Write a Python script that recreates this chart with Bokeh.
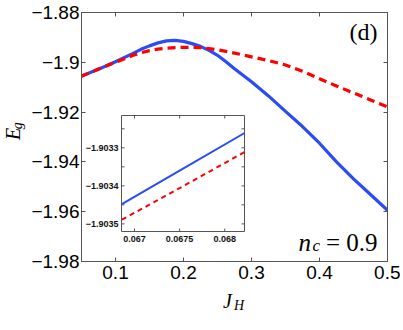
from math import pi
from bokeh.plotting import figure
from bokeh.models import Range1d, FixedTicker, LinearAxis, Label
from bokeh.layouts import row, column
from bokeh.core.properties import value
from bokeh.embed import file_html
from bokeh.resources import INLINE

# ---------------- data ----------------
jh = [0.05, 0.075, 0.1, 0.125, 0.1375, 0.15, 0.1625, 0.175, 0.1875, 0.2, 0.2125,
      0.225, 0.2375, 0.25, 0.2625, 0.275, 0.3, 0.325, 0.35, 0.375, 0.4, 0.425,
      0.45, 0.475, 0.5]
eg_blue = [-1.9055, -1.9028, -1.8998, -1.8965, -1.8948, -1.8934, -1.8922, -1.8914,
           -1.8912, -1.8916, -1.8925, -1.8936, -1.8952, -1.8972, -1.8998, -1.9026,
           -1.9078, -1.9135, -1.9197, -1.9258, -1.9325, -1.9400, -1.9468, -1.9531,
           -1.9594]
eg_red = [-1.9056, -1.9027, -1.9000, -1.8973, -1.8962, -1.8953, -1.8947, -1.8943,
          -1.8941, -1.8940, -1.8940, -1.8941, -1.8945, -1.8950, -1.8956, -1.8963,
          -1.8978, -1.8993, -1.9011, -1.9036, -1.9066, -1.9095, -1.9123, -1.9151,
          -1.9179]

x_ticks = [0.1, 0.2, 0.3, 0.4, 0.5]
x_tick_labels = ["0.1", "0.2", "0.3", "0.4", "0.5"]
y_ticks = [-1.98, -1.96, -1.94, -1.92, -1.9, -1.88]
y_tick_labels = ["\u22121.98", "\u22121.96", "\u22121.94", "\u22121.92", "\u22121.9", "\u22121.88"]

# inset (zoom) data
inset_x_lim = [0.066856, 0.068219]
inset_y_lim = [-1.90352, -1.903215]
inset_jh = [0.06686, 0.0675, 0.06822]
inset_blue = [-1.903448, -1.903360, -1.903261]
inset_red = [-1.903489, -1.903406, -1.903311]
inset_x_ticks = [0.067, 0.0675, 0.068]
inset_x_labels = ["0.067", "0.0675", "0.068"]
inset_y_ticks = [-1.9035, -1.90345, -1.9034, -1.90335, -1.9033, -1.90325]
inset_y_labeled = [-1.9035, -1.9034, -1.9033]
inset_y_labels = ["\u22121.9035", "\u22121.9034", "\u22121.9033"]

# axis titles (math-style text)
y_title = ["E", "g"]
x_title = ["J", "H"]

BLUE = "#2a4cf6"
RED = "#ff0000"
AX = "#555555"
SERIF = "Liberation Serif"
SANS = "Liberation Sans"

# ---------------- layout (pixels) ----------------
LW = 28                      # left strip holding the y title
PW, PH = 372, 287            # main figure
BH = 33                      # bottom strip holding the x title
FL, FR, FT, FB = 81, 387, 12, 261           # main axes box (page pixels)
IL, IR, IT, IB = 121, 244, 115, 231         # inset axes box (page pixels)

p = figure(width=PW, height=PH, x_range=Range1d(0.05, 0.5), y_range=Range1d(-1.98, -1.88),
           output_backend="svg", toolbar_location=None,
           min_border_left=FL - LW, min_border_right=LW + PW - FR, min_border_top=FT,
           min_border_bottom=PH - FB)
p.grid.visible = False
p.outline_line_color = AX
p.background_fill_color = "white"
p.border_fill_color = "white"

bx = p.below[0]
ly = p.left[0]
bx.ticker = FixedTicker(ticks=x_ticks)
bx.major_label_overrides = dict(zip(x_ticks, x_tick_labels))
ly.ticker = FixedTicker(ticks=y_ticks)
ly.major_label_overrides = dict(zip(y_ticks, y_tick_labels))

top_ax = LinearAxis(ticker=FixedTicker(ticks=x_ticks))
right_ax = LinearAxis(ticker=FixedTicker(ticks=y_ticks))
p.add_layout(top_ax, "above")
p.add_layout(right_ax, "right")

for ax in [bx, ly, top_ax, right_ax]:
    ax.axis_line_color = AX
    ax.major_tick_line_color = AX
    ax.major_tick_in = 4
    ax.major_tick_out = 0
    ax.minor_tick_line_color = None
    ax.major_label_text_font = SANS
    ax.major_label_text_font_size = "19px"
    ax.major_label_text_color = "black"
for ax in [top_ax, right_ax]:
    ax.major_label_text_font_size = "1px"
    ax.major_label_text_color = None
    ax.major_label_standoff = 0
bx.major_label_standoff = 4
ly.major_label_standoff = 2

p.line(jh, eg_blue, line_color=BLUE, line_width=3.2)
p.line(jh, eg_red, line_color=RED, line_width=3.2, line_dash="8 5")

# ---------------- inset drawn on extra ranges mapped onto its box ----------------
sx = (inset_x_lim[1] - inset_x_lim[0]) / (IR - IL)
sy = (inset_y_lim[1] - inset_y_lim[0]) / (IB - IT)
p.extra_x_ranges = {"ix": Range1d(inset_x_lim[0] - (IL - FL) * sx, inset_x_lim[1] + (FR - IR) * sx)}
p.extra_y_ranges = {"iy": Range1d(inset_y_lim[0] - (FB - IB) * sy, inset_y_lim[1] + (IT - FT) * sy)}
R = dict(x_range_name="ix", y_range_name="iy")

p.quad(left=[inset_x_lim[0]], right=[inset_x_lim[1]], bottom=[inset_y_lim[0]],
       top=[inset_y_lim[1]], fill_color="white", line_color=AX, line_width=1, **R)
n_x, n_y = len(inset_x_ticks), len(inset_y_ticks)
p.ray(x=inset_x_ticks, y=[inset_y_lim[0]] * n_x, length=3, length_units="screen",
      angle=pi / 2, line_color=AX, **R)
p.ray(x=inset_x_ticks, y=[inset_y_lim[1]] * n_x, length=3, length_units="screen",
      angle=-pi / 2, line_color=AX, **R)
p.ray(x=[inset_x_lim[0]] * n_y, y=inset_y_ticks, length=3, length_units="screen",
      angle=0, line_color=AX, **R)
p.ray(x=[inset_x_lim[1]] * n_y, y=inset_y_ticks, length=3, length_units="screen",
      angle=pi, line_color=AX, **R)
p.text(x=inset_x_ticks, y=[inset_y_lim[0]] * n_x, text=inset_x_labels, y_offset=4,
       text_align="center", text_baseline="top", text_font=value(SANS),
       text_font_style="bold", text_font_size="9px", text_color="#111111", **R)
p.text(x=[inset_x_lim[0]] * len(inset_y_labeled), y=inset_y_labeled, text=inset_y_labels,
       x_offset=-3, text_align="right", text_baseline="middle", text_font=value(SANS),
       text_font_style="bold", text_font_size="9px", text_color="#111111", **R)
p.line(inset_jh, inset_blue, line_color=BLUE, line_width=2, **R)
p.line(inset_jh, inset_red, line_color=RED, line_width=2, line_dash="5 4", **R)


# ---------------- in-box text labels ----------------
def lab(text, x, y, dx, dy, size, style="italic", align="left", baseline="alphabetic"):
    p.add_layout(Label(x=x, y=y, x_offset=dx, y_offset=dy, text=text, text_font=SERIF,
                       text_font_size=size, text_font_style=style, text_align=align,
                       text_baseline=baseline, text_color="black"))


lab("(d)", 0.5, -1.88, -10, -6, "24px", style="normal", align="right", baseline="top")
lab("n", 0.5, -1.98, -89, 19, "25px")
lab("c", 0.5, -1.98, -75, 16, "17px")
lab("= 0.9", 0.5, -1.98, -10, 19, "25px", style="normal", align="right")


# ---------------- strips holding the axis titles ----------------
def strip(w, h):
    s = figure(width=w, height=h, x_range=Range1d(0, w), y_range=Range1d(h, 0),
               x_axis_type=None, y_axis_type=None, output_backend="svg",
               toolbar_location=None, min_border=0, min_border_left=0,
               min_border_right=0, min_border_top=0, min_border_bottom=0)
    s.grid.visible = False
    s.outline_line_color = None
    s.background_fill_color = "white"
    s.border_fill_color = "white"
    return s


left = strip(LW, PH)
left.text(x=[12], y=[147], text=[y_title[0]], angle=pi / 2, text_font=value(SERIF),
          text_font_style="italic", text_font_size="20px", text_baseline="middle",
          text_align="left", text_color="black")
left.text(x=[17], y=[134.5], text=[y_title[1]], angle=pi / 2, text_font=value(SERIF),
          text_font_style="italic", text_font_size="14px", text_baseline="middle",
          text_align="left", text_color="black")

bottom = strip(LW + PW, BH)
bottom.text(x=[222.5], y=[300.5 - PH], text=[x_title[0]], text_font=value(SERIF),
            text_font_style="italic", text_font_size="20px", text_baseline="alphabetic",
            text_align="left", text_color="black")
bottom.text(x=[233.5], y=[304.5 - PH], text=[x_title[1]], text_font=value(SERIF),
            text_font_style="italic", text_font_size="14px", text_baseline="alphabetic",
            text_align="left", text_color="black")

layout = column(row(left, p), bottom)
open("out.html", "w").write(file_html(layout, INLINE))
